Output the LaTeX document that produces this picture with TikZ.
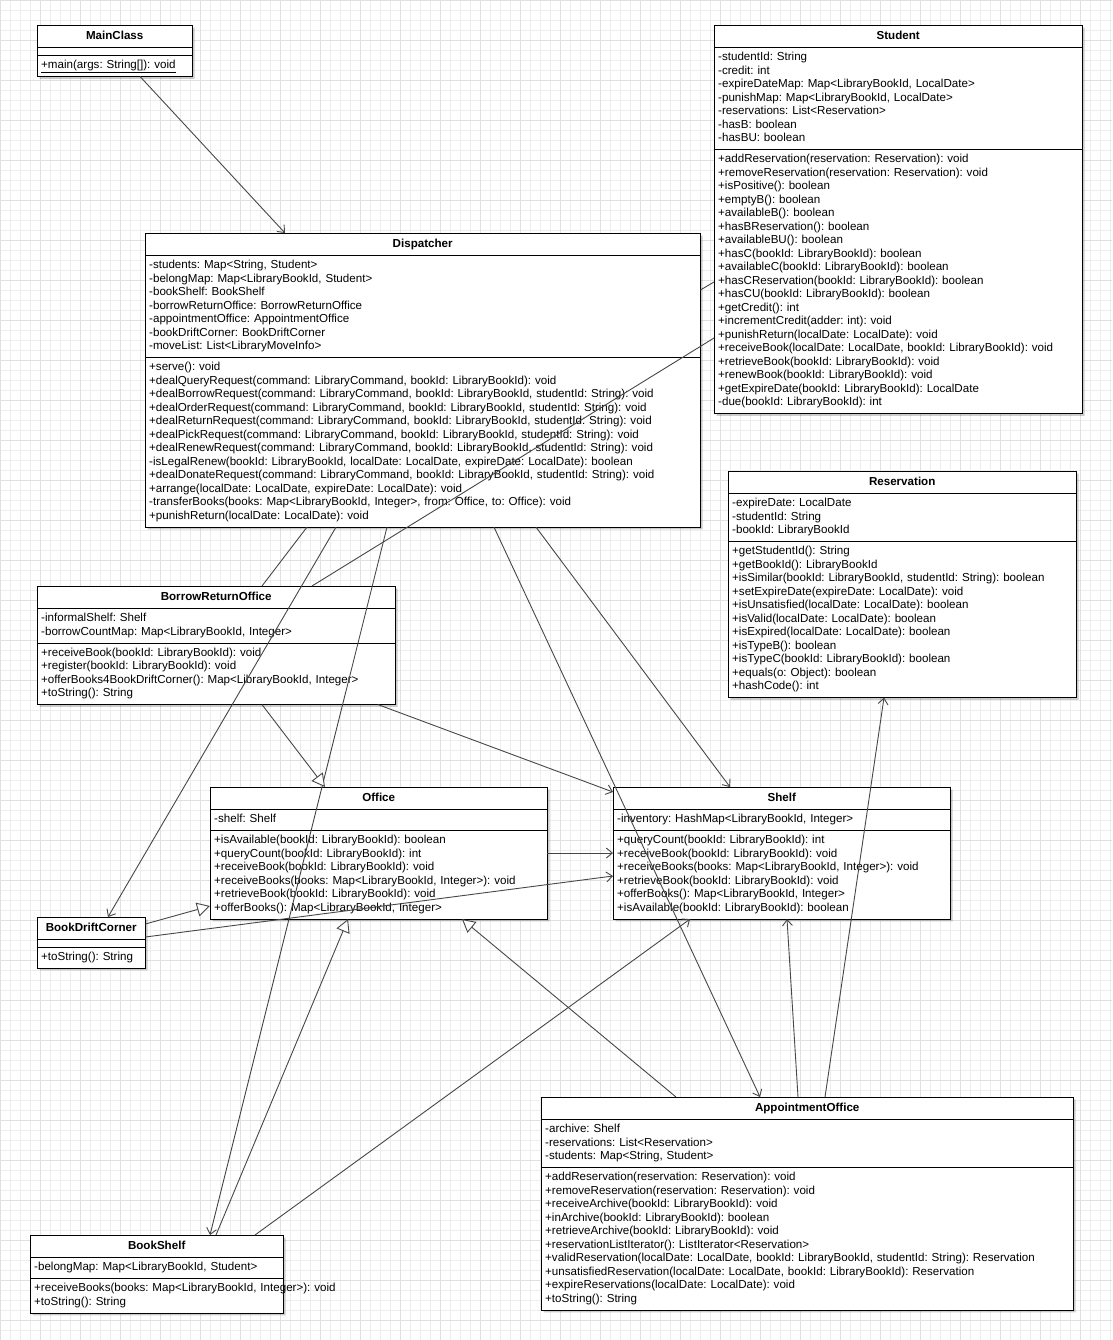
\documentclass[tikz,border=0pt]{standalone}
\usepackage{fontspec}
\setmainfont{Liberation Sans}
\usetikzlibrary{positioning,arrows.meta,shapes.multipart,shadows}

\newcommand{\umlfont}{\fontsize{11.6}{13.5}\selectfont\frenchspacing}
\newcommand{\titlestrut}{\rule[-4pt]{0pt}{15pt}}
\newcommand{\umlrows}[1]{\if\relax\detokenize{#1}\relax\else\strut#1\strut\fi}
\newcommand{\umlclass}[6]{
	\node [umlclass, text width=#3] (#1) at (#2) {\makebox[\hsize][c]{\titlestrut\textbf{#4}}%
		\nodepart{second}\umlrows{#5}%
		\nodepart{third}\umlrows{#6}}
}

\tikzset{
	umlclass/.style={rectangle split, rectangle split parts=3, draw=black, fill=white,
		anchor=north west, inner xsep=4pt, inner ysep=3.5pt, align=left, font=\umlfont,
		drop shadow={shadow xshift=2.5pt, shadow yshift=-2.5pt, opacity=0.2, fill=black}},
	link/.style={draw=black!72, line width=0.9pt},
	assoc/.style={link, -{Straight Barb[length=6pt,width=10pt]}},
	inherit/.style={link, -{Triangle[length=13pt,width=14pt,fill=white]}},
	gridminor/.style={draw=black!7, line width=0.6pt},
	gridmajor/.style={draw=black!12, line width=0.6pt}
}

\begin{document}
\begin{tikzpicture}[x=1pt,y=-1pt]
	% paper
	\useasboundingbox (0,0) rectangle (1112,1340);
	\fill [white] (0,0) rectangle (1112,1340);
	\draw [gridminor, step=10pt] (0,0) grid (1112,1340);
	\draw [gridmajor, step=40pt] (0,0) grid (1112,1340);

	% classes
	\umlclass {main}{37,25}{147pt}{MainClass}{}{\underline{+main(args: String[]): void}};
	\umlclass {student}{714,25}{360pt}{Student}{-studentId: String\\
		-credit: int\\
		-expireDateMap: Map<LibraryBookId, LocalDate>\\
		-punishMap: Map<LibraryBookId, LocalDate>\\
		-reservations: List<Reservation>\\
		-hasB: boolean\\
		-hasBU: boolean}{+addReservation(reservation: Reservation): void\\
		+removeReservation(reservation: Reservation): void\\
		+isPositive(): boolean\\
		+emptyB(): boolean\\
		+availableB(): boolean\\
		+hasBReservation(): boolean\\
		+availableBU(): boolean\\
		+hasC(bookId: LibraryBookId): boolean\\
		+availableC(bookId: LibraryBookId): boolean\\
		+hasCReservation(bookId: LibraryBookId): boolean\\
		+hasCU(bookId: LibraryBookId): boolean\\
		+getCredit(): int\\
		+incrementCredit(adder: int): void\\
		+punishReturn(localDate: LocalDate): void\\
		+receiveBook(localDate: LocalDate, bookId: LibraryBookId): void\\
		+retrieveBook(bookId: LibraryBookId): void\\
		+renewBook(bookId: LibraryBookId): void\\
		+getExpireDate(bookId: LibraryBookId): LocalDate\\
		-due(bookId: LibraryBookId): int};
	\umlclass {disp}{145,233}{547pt}{Dispatcher}{-students: Map<String, Student>\\
		-belongMap: Map<LibraryBookId, Student>\\
		-bookShelf: BookShelf\\
		-borrowReturnOffice: BorrowReturnOffice\\
		-appointmentOffice: AppointmentOffice\\
		-bookDriftCorner: BookDriftCorner\\
		-moveList: List<LibraryMoveInfo>}{+serve(): void\\
		+dealQueryRequest(command: LibraryCommand, bookId: LibraryBookId): void\\
		+dealBorrowRequest(command: LibraryCommand, bookId: LibraryBookId, studentId: String): void\\
		+dealOrderRequest(command: LibraryCommand, bookId: LibraryBookId, studentId: String): void\\
		+dealReturnRequest(command: LibraryCommand, bookId: LibraryBookId, studentId: String): void\\
		+dealPickRequest(command: LibraryCommand, bookId: LibraryBookId, studentId: String): void\\
		+dealRenewRequest(command: LibraryCommand, bookId: LibraryBookId, studentId: String): void\\
		-isLegalRenew(bookId: LibraryBookId, localDate: LocalDate, expireDate: LocalDate): boolean\\
		+dealDonateRequest(command: LibraryCommand, bookId: LibraryBookId, studentId: String): void\\
		+arrange(localDate: LocalDate, expireDate: LocalDate): void\\
		-transferBooks(books: Map<LibraryBookId, Integer>, from: Office, to: Office): void\\
		+punishReturn(localDate: LocalDate): void};
	\umlclass {res}{728,471}{340pt}{Reservation}{-expireDate: LocalDate\\
		-studentId: String\\
		-bookId: LibraryBookId}{+getStudentId(): String\\
		+getBookId(): LibraryBookId\\
		+isSimilar(bookId: LibraryBookId, studentId: String): boolean\\
		+setExpireDate(expireDate: LocalDate): void\\
		+isUnsatisfied(localDate: LocalDate): boolean\\
		+isValid(localDate: LocalDate): boolean\\
		+isExpired(localDate: LocalDate): boolean\\
		+isTypeB(): boolean\\
		+isTypeC(bookId: LibraryBookId): boolean\\
		+equals(o: Object): boolean\\
		+hashCode(): int};
	\umlclass {bro}{37,586}{350pt}{BorrowReturnOffice}{-informalShelf: Shelf\\
		-borrowCountMap: Map<LibraryBookId, Integer>}{+receiveBook(bookId: LibraryBookId): void\\
		+register(bookId: LibraryBookId): void\\
		+offerBooks4BookDriftCorner(): Map<LibraryBookId, Integer>\\
		+toString(): String};
	\umlclass {office}{210,787}{329pt}{Office}{-shelf: Shelf}{+isAvailable(bookId: LibraryBookId): boolean\\
		+queryCount(bookId: LibraryBookId): int\\
		+receiveBook(bookId: LibraryBookId): void\\
		+receiveBooks(books: Map<LibraryBookId, Integer>): void\\
		+retrieveBook(bookId: LibraryBookId): void\\
		+offerBooks(): Map<LibraryBookId, Integer>};
	\umlclass {shelf}{613,787}{329pt}{Shelf}{-inventory: HashMap<LibraryBookId, Integer>}{+queryCount(bookId: LibraryBookId): int\\
		+receiveBook(bookId: LibraryBookId): void\\
		+receiveBooks(books: Map<LibraryBookId, Integer>): void\\
		+retrieveBook(bookId: LibraryBookId): void\\
		+offerBooks(): Map<LibraryBookId, Integer>\\
		+isAvailable(bookId: LibraryBookId): boolean};
	\umlclass {bdc}{37,917}{100pt}{BookDriftCorner}{}{+toString(): String};
	\umlclass {ao}{541,1097}{524pt}{AppointmentOffice}{-archive: Shelf\\
		-reservations: List<Reservation>\\
		-students: Map<String, Student>}{+addReservation(reservation: Reservation): void\\
		+removeReservation(reservation: Reservation): void\\
		+receiveArchive(bookId: LibraryBookId): void\\
		+inArchive(bookId: LibraryBookId): boolean\\
		+retrieveArchive(bookId: LibraryBookId): void\\
		+reservationListIterator(): ListIterator<Reservation>\\
		+validReservation(localDate: LocalDate, bookId: LibraryBookId, studentId: String): Reservation\\
		+unsatisfiedReservation(localDate: LocalDate, bookId: LibraryBookId): Reservation\\
		+expireReservations(localDate: LocalDate): void\\
		+toString(): String};
	\umlclass {bookshelf}{30,1235}{245pt}{BookShelf}{-belongMap: Map<LibraryBookId, Student>}{\mbox{+receiveBooks(books: Map<LibraryBookId, Integer>): void}\\
		+toString(): String};

	% links to Student
	\draw [link] ([yshift=-57pt]disp.north east) -- ([yshift=-257pt]student.north west);
	\draw [link] ([xshift=275pt]bro.north west) -- ([yshift=-313pt]student.north west);
	\draw [link] ([xshift=162pt]disp.south west) -- ([xshift=225pt]bro.north west);

	% associations
	\draw [assoc] ([xshift=103pt]main.south west) -- ([xshift=140pt]disp.north west);
	\draw [assoc] ([xshift=191pt]disp.south west) -- ([xshift=71pt]bdc.north west);
	\draw [assoc] ([xshift=242pt]disp.south west) -- ([xshift=180pt]bookshelf.north west);
	\draw [assoc] ([xshift=349pt]disp.south west) -- ([xshift=219pt]ao.north west);
	\draw [assoc] ([xshift=391pt]disp.south west) -- ([xshift=117pt]shelf.north west);
	\draw [assoc] ([xshift=341pt]bro.south west) -- ([yshift=-5pt]shelf.north west);
	\draw [assoc] ([yshift=-66pt]office.north east) -- ([yshift=-66pt]shelf.north west);
	\draw [assoc] ([yshift=-20pt]bdc.north east) -- ([yshift=-89pt]shelf.north west);
	\draw [assoc] ([xshift=225pt]bookshelf.north west) -- ([xshift=77pt]shelf.south west);
	\draw [assoc] ([xshift=257pt]ao.north west) -- ([xshift=174pt]shelf.south west);
	\draw [assoc] ([xshift=284pt]ao.north west) -- ([xshift=156pt]res.south west);

	% generalisations
	\draw [inherit] ([xshift=225pt]bro.south west) -- ([xshift=115pt]office.north west);
	\draw [inherit] ([yshift=-7pt]bdc.north east) -- ([yshift=-119pt]office.north west);
	\draw [inherit] ([xshift=186pt]bookshelf.north west) -- ([xshift=138pt]office.south west);
	\draw [inherit] ([xshift=135pt]ao.north west) -- ([xshift=252pt]office.south west);
\end{tikzpicture}
\end{document}
